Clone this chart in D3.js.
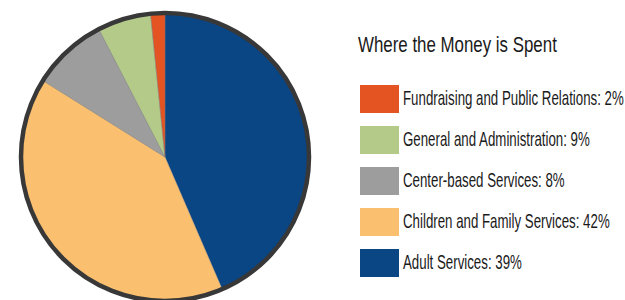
<!DOCTYPE html>
<html>
<head>
<meta charset="utf-8">
<script src="https://cdn.jsdelivr.net/npm/d3@7"></script>
<style>
  body { margin: 0; background: #fff; }
  text { font-family: "Liberation Sans", Arial, sans-serif; fill: #1a1a1a; }
</style>
</head>
<body>
<svg id="chart" width="625" height="300"></svg>
<script>
// Slices in drawing order (clockwise from 12 o'clock)
var categories = ["Adult Services", "Children and Family Services", "Center-based Services", "General and Administration", "Fundraising and Public Relations"];
var sliceValues = [43.5, 40.4, 8.5, 6.0, 1.6];
var colors = ["#0a4584", "#fbc06f", "#9d9d9d", "#b3ca89", "#e35422"];

// Legend (top to bottom) with the printed percentages
var legendNames = ["Fundraising and Public Relations", "General and Administration", "Center-based Services", "Children and Family Services", "Adult Services"];
var legendPct = ["2%", "9%", "8%", "42%", "39%"];

var titleText = "Where the Money is Spent";

var svg = d3.select("#chart");

var cx = 165, cy = 157, radius = 144;

var pie = d3.pie().sort(null).value(function(d) { return d; });
var arc = d3.arc().innerRadius(0).outerRadius(radius);

var colorScale = d3.scaleOrdinal().domain(categories).range(colors);

var g = svg.append("g")
    .attr("transform", "translate(" + cx + "," + cy + ")");

g.selectAll("path.slice")
    .data(pie(sliceValues))
    .enter()
    .append("path")
    .attr("class", "slice")
    .attr("d", arc)
    .attr("fill", function(d, i) { return colorScale(categories[i]); })
    .attr("stroke", "#777")
    .attr("stroke-width", 0.4);

// dark ring round the pie
g.append("circle")
    .attr("r", radius)
    .attr("fill", "none")
    .attr("stroke", "#383838")
    .attr("stroke-width", 4.5);

/**** Legend ****/
// the original uses a condensed face; squeeze a regular one horizontally
var title = svg.append("g")
    .attr("transform", "translate(358,52)");
var titleEl = title.append("text")
    .style("font-size", "22.5px")
    .text(titleText);
var titleSqueeze = 199 / titleEl.node().getComputedTextLength();
titleEl.attr("transform", "scale(" + titleSqueeze + ",1)");

var yScale = d3.scaleBand()
    .domain(legendNames)
    .range([85, 290])
    .paddingInner(0);

var items = svg.selectAll("g.item")
    .data(legendNames)
    .enter()
    .append("g")
    .attr("class", "item")
    .attr("transform", function(d) { return "translate(360," + yScale(d) + ")"; });

items.append("rect")
    .attr("width", 39)
    .attr("height", 28)
    .attr("fill", function(d) { return colorScale(d); });

var labels = items.append("g")
    .attr("transform", "translate(43,20)")
    .append("text")
    .style("font-size", "19.5px")
    .text(function(d, i) { return d + ": " + legendPct[i]; });

var squeeze = 221 / labels.node().getComputedTextLength();
labels.attr("transform", "scale(" + squeeze + ",1)");
</script>
</body>
</html>
